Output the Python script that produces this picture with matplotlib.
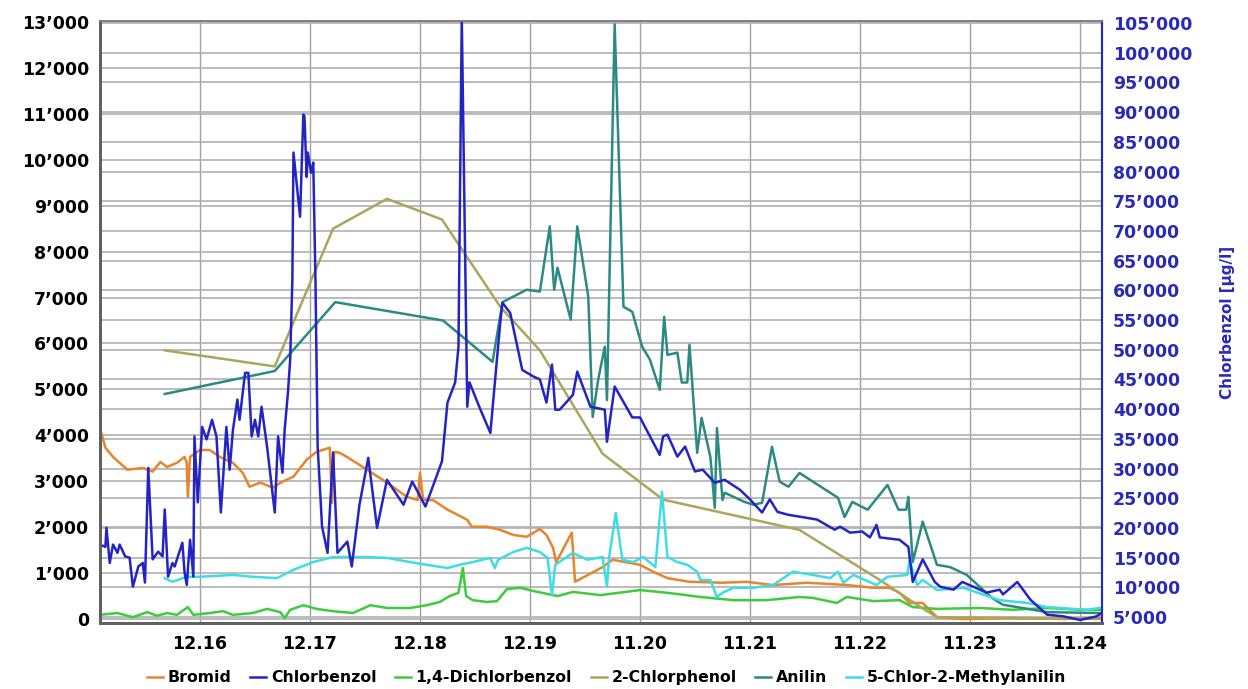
import numpy as np
import matplotlib
matplotlib.use("Agg")
import matplotlib.pyplot as plt
from matplotlib.ticker import FuncFormatter

# x in days, 0 = tick "12.16"
tick_labels = ["12.16", "12.17", "12.18", "12.19", "11.20", "11.21", "11.22", "11.23", "11.24"]

# Bromid [left axis]
bromid_x = [-0.91, -0.86, -0.79, -0.66, -0.52, -0.43, -0.36, -0.30, -0.21, -0.14,
            -0.12, -0.11, -0.09, 0.00, 0.09, 0.18, 0.30, 0.39, 0.45, 0.55,
            0.66, 0.75, 0.85, 0.97, 1.06, 1.18, 1.20, 1.22, 1.27, 1.35,
            1.52, 1.70, 1.88, 1.98, 2.00, 2.03, 2.12, 2.25, 2.43, 2.47,
            2.61, 2.73, 2.85, 2.97, 3.09, 3.15, 3.21, 3.24, 3.25, 3.38,
            3.41, 3.66, 3.75, 4.00, 4.12, 4.25, 4.45, 4.75, 4.97, 5.21,
            5.52, 5.88, 6.12, 6.27, 6.36, 6.45, 6.57, 6.70, 6.94, 7.39,
            7.85, 8.18]
bromid_y = [4160, 3730, 3530, 3250, 3290, 3210, 3420, 3310, 3400, 3530,
            3400, 2660, 3530, 3680, 3680, 3530, 3400, 3180, 2880, 2970,
            2860, 2990, 3100, 3470, 3640, 3730, 2530, 3640, 3620, 3510,
            3250, 2970, 2660, 2590, 3180, 2590, 2590, 2380, 2160, 2010,
            2010, 1940, 1830, 1790, 1960, 1830, 1550, 1220, 1290, 1880,
            810, 1130, 1290, 1180, 1030, 890, 810, 790, 810, 740,
            790, 740, 680, 680, 570, 350, 350, 40, 0, 20,
            0, 20]

# Chlorbenzol [right axis, ug/l]
chlorbenzol_x = [-0.91, -0.86, -0.85, -0.82, -0.79, -0.75, -0.73, -0.68, -0.64, -0.61,
                 -0.56, -0.52, -0.50, -0.47, -0.43, -0.38, -0.34, -0.32, -0.29, -0.25,
                 -0.23, -0.20, -0.16, -0.14, -0.12, -0.09, -0.06, -0.05, -0.02, 0.02,
                 0.06, 0.11, 0.15, 0.19, 0.24, 0.27, 0.30, 0.34, 0.36, 0.41,
                 0.44, 0.47, 0.50, 0.53, 0.56, 0.61, 0.68, 0.71, 0.75, 0.77,
                 0.80, 0.82, 0.84, 0.85, 0.91, 0.94, 0.95, 0.97, 0.98, 1.01,
                 1.03, 1.04, 1.05, 1.07, 1.11, 1.16, 1.21, 1.25, 1.34, 1.38,
                 1.45, 1.53, 1.61, 1.70, 1.85, 1.93, 2.05, 2.20, 2.25, 2.32,
                 2.35, 2.38, 2.43, 2.45, 2.55, 2.64, 2.73, 2.75, 2.82, 2.93,
                 3.03, 3.09, 3.15, 3.20, 3.23, 3.27, 3.39, 3.43, 3.55, 3.68,
                 3.70, 3.77, 3.93, 4.00, 4.18, 4.21, 4.25, 4.34, 4.41, 4.50,
                 4.57, 4.68, 4.77, 4.91, 5.00, 5.11, 5.18, 5.25, 5.35, 5.45,
                 5.61, 5.77, 5.82, 5.91, 6.02, 6.09, 6.15, 6.18, 6.36, 6.44,
                 6.48, 6.57, 6.68, 6.73, 6.85, 6.93, 7.03, 7.15, 7.27, 7.30,
                 7.43, 7.55, 7.70, 7.85, 8.00, 8.15, 8.20]
chlorbenzol_y = [17200, 16800, 20000, 14100, 17200, 15800, 17200, 15200, 15000, 10100,
                 13500, 14100, 10800, 30100, 14700, 16000, 15200, 23100, 11800, 14100,
                 13500, 15200, 17500, 12500, 10400, 18000, 11800, 35400, 24300, 37000,
                 34900, 38200, 35400, 22600, 37000, 29800, 36500, 41600, 38200, 46100,
                 46100, 35400, 38200, 35400, 40400, 33700, 22600, 35400, 29300, 36500,
                 42800, 48300, 61800, 83200, 72400, 89600, 89300, 79100, 83200, 79800,
                 81500, 71900, 61800, 33700, 20200, 15800, 32700, 15800, 17700, 13500,
                 23900, 31800, 20000, 28100, 23900, 27800, 23600, 31200, 41100, 44500,
                 50500, 106000, 40400, 44500, 39900, 36000, 54600, 57900, 56200, 46600,
                 45500, 45000, 41100, 47500, 39900, 39900, 42400, 46300, 40400, 39900,
                 34500, 43800, 38600, 38600, 32300, 35400, 35700, 32000, 33700, 29500,
                 29800, 27600, 28100, 26400, 24800, 22600, 24800, 22700, 22200, 21900,
                 21400, 19700, 20200, 19200, 19400, 18400, 20500, 18400, 18000, 16800,
                 10900, 14700, 10900, 10100, 9600, 10900, 10100, 9100, 9600, 8800,
                 10900, 7900, 5400, 5100, 4500, 5100, 5700]

# 1,4-Dichlorbenzol [left axis]
dichlor_x = [-0.91, -0.75, -0.61, -0.48, -0.39, -0.30, -0.21, -0.11, -0.06, 0.09,
             0.21, 0.30, 0.48, 0.61, 0.73, 0.77, 0.82, 0.94, 1.06, 1.21,
             1.39, 1.55, 1.70, 1.91, 2.06, 2.18, 2.27, 2.35, 2.39, 2.42,
             2.48, 2.61, 2.70, 2.79, 2.91, 3.03, 3.25, 3.39, 3.64, 4.00,
             4.25, 4.55, 4.85, 5.15, 5.45, 5.57, 5.79, 5.88, 6.12, 6.36,
             6.48, 6.70, 7.09, 7.39, 7.70, 8.00, 8.18]
dichlor_y = [90, 130, 40, 150, 70, 130, 90, 260, 90, 130,
             170, 90, 130, 220, 150, 20, 200, 300, 220, 170,
             130, 300, 240, 240, 300, 370, 500, 570, 1110, 500,
             410, 370, 390, 650, 680, 610, 500, 590, 520, 630,
             570, 480, 410, 410, 480, 460, 350, 480, 390, 410,
             260, 220, 240, 200, 240, 200, 200]

# 2-Chlorphenol [left axis]
chlorphenol_x = [-0.32, 0.68, 1.21, 1.70, 2.20, 2.73, 3.09, 3.66, 4.21, 5.45, 6.18, 6.55, 6.70, 8.18]
chlorphenol_y = [5850, 5500, 8500, 9150, 8700, 6800, 5850, 3600, 2600, 1940, 850, 260, 40, 0]

# Anilin [left axis]
anilin_x = [-0.32, 0.68, 1.23, 2.21, 2.66, 2.75, 2.97, 3.09, 3.18, 3.22,
            3.25, 3.37, 3.43, 3.53, 3.57, 3.62, 3.68, 3.70, 3.77, 3.85,
            3.93, 4.02, 4.09, 4.18, 4.22, 4.25, 4.34, 4.38, 4.43, 4.45,
            4.52, 4.56, 4.64, 4.68, 4.70, 4.75, 4.77, 4.85, 4.95, 5.03,
            5.11, 5.20, 5.27, 5.35, 5.45, 5.80, 5.86, 5.93, 6.07, 6.25,
            6.35, 6.42, 6.44, 6.48, 6.57, 6.70, 6.82, 6.97, 7.20, 7.30,
            7.70, 8.18]
anilin_y = [4900, 5400, 6900, 6500, 5600, 6900, 7170, 7130, 8550, 7170,
            7650, 6520, 8550, 7020, 4400, 5210, 5930, 4770, 12950, 6800,
            6690, 5930, 5650, 4990, 6580, 5750, 5800, 5150, 5150, 5970,
            3620, 4380, 3530, 2420, 4160, 2590, 2750, 2660, 2550, 2490,
            2530, 3750, 2990, 2880, 3180, 2640, 2220, 2550, 2380, 2920,
            2380, 2380, 2660, 1240, 2120, 1180, 1130, 960, 460, 310,
            150, 130]

# 5-Chlor-2-Methylanilin [left axis]
methyl_x = [-0.32, -0.25, -0.12, 0.00, 0.30, 0.48, 0.70, 0.85, 1.03, 1.21,
            1.52, 1.70, 1.91, 2.06, 2.25, 2.36, 2.48, 2.64, 2.68, 2.71,
            2.85, 2.97, 3.09, 3.16, 3.20, 3.23, 3.39, 3.52, 3.66, 3.70,
            3.72, 3.78, 3.84, 3.94, 4.03, 4.14, 4.20, 4.25, 4.34, 4.43,
            4.52, 4.55, 4.64, 4.70, 4.75, 4.85, 5.03, 5.21, 5.39, 5.57,
            5.73, 5.80, 5.85, 5.94, 6.15, 6.25, 6.43, 6.45, 6.52, 6.57,
            6.70, 6.94, 7.27, 7.52, 7.70, 8.06, 8.18]
methyl_y = [890, 810, 920, 920, 960, 920, 890, 1070, 1240, 1350,
            1350, 1330, 1240, 1180, 1110, 1180, 1240, 1330, 1110, 1290,
            1460, 1550, 1460, 1330, 520, 1180, 1440, 1290, 1350, 700,
            1350, 2310, 1290, 1240, 1350, 1130, 2770, 1350, 1240, 1180,
            1030, 850, 850, 480, 570, 680, 680, 740, 1030, 960,
            890, 1030, 790, 960, 740, 920, 960, 1290, 740, 850,
            630, 680, 410, 350, 260, 200, 240]

left_ticks = np.arange(0, 13001, 1000)
right_ticks = np.arange(5000, 105001, 5000)

c_bromid = "#E8842C"
c_chlor = "#2424C4"
c_dichlor = "#3DCC3D"
c_phenol = "#ABA65C"
c_anilin = "#2B8A82"
c_methyl = "#3EDDE6"
c_right = "#2A2AB8"

def fmt(v, pos):
    return "{:,.0f}".format(v).replace(",", "\u2019")

fig = plt.figure(figsize=(12.48, 6.89), dpi=100)
ax = fig.add_axes([0.0801, 0.0958, 0.8029, 0.8737])
ax2 = ax.twinx()

# grids, all behind the data
for t in range(len(tick_labels)):
    ax.axvline(t, color="#a0a0a0", lw=1.0, zorder=0)
for v in left_ticks:
    ax.axhline(v, color="#b0b0b0", lw=1.2, zorder=0)
ax.hlines(right_ticks, -1, 9, transform=ax2.transData, color="#b0b0b0", lw=1.2, zorder=0)

lw = 1.8
h1, = ax.plot(bromid_x, bromid_y, color=c_bromid, lw=lw, label="Bromid")
h3, = ax.plot(dichlor_x, dichlor_y, color=c_dichlor, lw=lw, label="1,4-Dichlorbenzol")
h4, = ax.plot(chlorphenol_x, chlorphenol_y, color=c_phenol, lw=lw, label="2-Chlorphenol")
h5, = ax.plot(anilin_x, anilin_y, color=c_anilin, lw=lw, label="Anilin")
h6, = ax.plot(methyl_x, methyl_y, color=c_methyl, lw=lw, label="5-Chlor-2-Methylanilin")
h2, = ax2.plot(chlorbenzol_x, chlorbenzol_y, color=c_chlor, lw=lw, label="Chlorbenzol")

ax.set_xlim(-0.909, 8.2)
ax.set_ylim(-87, 13022)
ax2.set_ylim(3990, 105340)

ax.set_xticks(range(len(tick_labels)))
ax.set_xticklabels(tick_labels)
ax.set_yticks(left_ticks)
ax2.set_yticks(right_ticks)
ax.yaxis.set_major_formatter(FuncFormatter(fmt))
ax2.yaxis.set_major_formatter(FuncFormatter(fmt))

ax.tick_params(axis="both", length=0, labelsize=12.5)
ax.tick_params(axis="y", pad=8)
ax.tick_params(axis="x", pad=9)
ax2.tick_params(axis="y", length=0, labelsize=12.5, pad=8, labelcolor=c_right)
for lab in ax.get_xticklabels() + ax.get_yticklabels():
    lab.set_fontweight("bold")
for lab in ax2.get_yticklabels():
    lab.set_fontweight("bold")

ax2.set_ylabel("Chlorbenzol [\u00b5g/l]", color=c_right, fontsize=11, fontweight="bold", labelpad=20)

for a in (ax, ax2):
    a.spines["left"].set_color("#606060")
    a.spines["left"].set_linewidth(2.0)
    a.spines["bottom"].set_color("#606060")
    a.spines["bottom"].set_linewidth(2.0)
    a.spines["top"].set_color("#808080")
    a.spines["top"].set_linewidth(1.2)
    a.spines["right"].set_color(c_right)
    a.spines["right"].set_linewidth(1.5)

fig.legend([h1, h2, h3, h4, h5, h6],
           ["Bromid", "Chlorbenzol", "1,4-Dichlorbenzol", "2-Chlorphenol", "Anilin", "5-Chlor-2-Methylanilin"],
           loc="center", bbox_to_anchor=(0.486, 0.016), ncol=6, frameon=False,
           handlelength=1.0, handletextpad=0.3, columnspacing=1.2,
           prop={"weight": "bold", "size": 11.3})

fig.savefig("out.png", dpi=100)
